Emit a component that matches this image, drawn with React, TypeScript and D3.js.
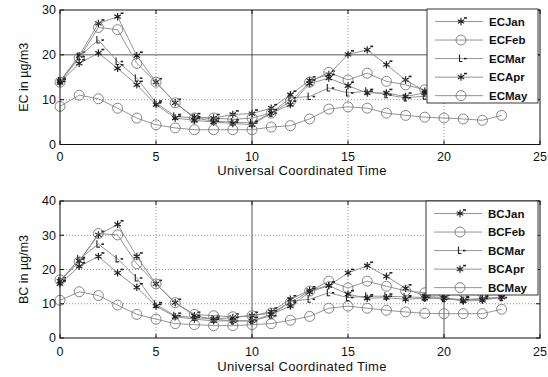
import * as d3 from "d3";
import React from "react";

const hours = [0, 1, 2, 3, 4, 5, 6, 7, 8, 9, 10, 11, 12, 13, 14, 15, 16, 17, 18, 19, 20, 21, 22, 23];
const xTicks = [0, 5, 10, 15, 20, 25];
const ecTicks = [0, 10, 20, 30];
const bcTicks = [0, 10, 20, 30, 40];

const ecJan = [14.1, 19.8, 27.0, 28.5, 19.8, 13.9, 9.3, 6.1, 5.9, 6.7, 6.9, 8.1, 11.1, 14.3, 15.6, 20.1, 21.1, 17.8, 14.4, 11.9, 11.0, 10.8, 10.6, 10.9];
const ecFeb = [13.9, 19.3, 26.1, 25.6, 18.1, 13.9, 9.3, 5.9, 5.9, 5.6, 5.9, 7.0, 9.6, 13.9, 16.1, 14.4, 15.9, 14.1, 13.3, 12.2, 11.5, 11.2, 11.0, 11.3];
const ecMar = [14.1, 19.6, 23.3, 18.5, 14.8, 9.3, 6.3, 5.9, 5.2, 5.0, 4.8, 7.0, 10.4, 10.7, 12.6, 11.5, 11.9, 11.1, 10.4, 10.8, 10.5, 10.3, 10.2, 10.5];
const ecApr = [13.8, 18.1, 20.4, 17.0, 13.3, 8.9, 5.9, 5.4, 5.0, 4.7, 4.4, 7.0, 8.9, 13.6, 14.8, 13.1, 11.5, 11.5, 10.7, 11.5, 10.8, 10.6, 10.4, 10.7];
const ecMay = [8.5, 11.0, 10.2, 8.1, 5.9, 4.4, 3.7, 3.3, 3.3, 3.3, 3.3, 3.9, 4.2, 5.7, 7.9, 8.4, 8.1, 7.0, 6.5, 6.1, 5.9, 5.7, 5.4, 6.5];

const bcJan = [16.6, 22.5, 30.1, 33.2, 23.8, 15.8, 10.3, 6.5, 5.5, 6.0, 6.5, 7.7, 11.3, 13.9, 15.3, 19.0, 21.1, 18.0, 14.5, 12.2, 11.8, 11.0, 11.4, 11.9];
const bcFeb = [17.0, 22.2, 30.5, 30.1, 21.7, 15.8, 10.3, 6.9, 6.5, 6.2, 6.5, 7.3, 10.4, 13.7, 16.6, 14.6, 16.6, 15.1, 13.8, 13.2, 13.0, 13.3, 13.2, 13.5];
const bcMar = [16.6, 23.1, 27.4, 23.1, 17.5, 9.8, 6.5, 6.0, 5.5, 5.0, 5.0, 6.5, 10.8, 11.3, 13.2, 11.8, 12.2, 12.2, 12.0, 11.8, 11.5, 11.2, 11.6, 11.8];
const bcApr = [15.8, 20.9, 23.8, 19.0, 14.8, 9.3, 6.2, 5.5, 5.0, 5.0, 5.0, 6.9, 9.3, 13.4, 15.3, 12.8, 11.6, 11.8, 11.3, 11.6, 11.6, 10.8, 11.0, 11.9];
const bcMay = [11.0, 13.5, 12.4, 9.6, 6.9, 5.5, 4.2, 3.9, 3.6, 3.6, 3.9, 4.2, 5.2, 6.3, 8.7, 9.3, 8.7, 8.1, 7.6, 7.2, 7.1, 7.1, 7.1, 8.4];

const ecNames = ["ECJan", "ECFeb", "ECMar", "ECApr", "ECMay"];
const bcNames = ["BCJan", "BCFeb", "BCMar", "BCApr", "BCMay"];
type Kind = "star" | "circle" | "ell";
const kinds: Kind[] = ["star", "circle", "ell", "star", "circle"];

const FONT = "'Liberation Sans', Arial, Helvetica, sans-serif";
const starPath = d3.symbol(d3.symbolAsterisk, 38)() ?? "";

const Marker: React.FC<{ kind: Kind; x: number; y: number }> = ({ kind, x, y }) => {
  if (kind === "circle")
    return <circle cx={x} cy={y} r={5} fill="none" stroke="#777" strokeWidth={0.9} />;
  if (kind === "ell")
    return (
      <g transform={`translate(${x},${y})`} stroke="#222" strokeWidth={1.1} fill="none">
        <path d="M-1.5,-4V3H1.5" />
        <path d="M3,0H5.5" strokeWidth={1.6} />
      </g>
    );
  return (
    <g transform={`translate(${x},${y})`} stroke="#222" fill="none">
      <path d={starPath} strokeWidth={1.2} />
      <path d="M3,-3.5H6" strokeWidth={1.6} />
    </g>
  );
};

interface PanelProps {
  top: number;
  bottom: number;
  tickDy: number;
  labelDy: number;
  yTicks: number[];
  yLabel: string;
  names: string[];
  series: number[][];
  solidX: number[];
  solidY: number[];
  legend: { x: number; y: number; w: number; h: number };
}

const Panel: React.FC<PanelProps> = ({ top, bottom, tickDy, labelDy, yTicks, yLabel, names, series, solidX, solidY, legend }) => {
  const left = 60;
  const right = 540;
  const x = d3.scaleLinear().domain([0, 25]).range([left, right]);
  const y = d3.scaleLinear().domain([0, yTicks[yTicks.length - 1]]).range([bottom, top]);
  const line = d3.line<number>().x((_, i) => x(hours[i])).y((d) => y(d));
  const rowH = (legend.h - 18) / 4.1;

  return (
    <g fontFamily={FONT}>
      {/* grid */}
      {xTicks.slice(1, -1).map((t) => (
        <line
          key={"gx" + t}
          x1={x(t)} x2={x(t)} y1={top} y2={bottom}
          stroke={solidX.includes(t) ? "#444" : "#666"}
          strokeWidth={solidX.includes(t) ? 0.9 : 0.7}
          strokeDasharray={solidX.includes(t) ? undefined : "1 2"}
        />
      ))}
      {yTicks.slice(1, -1).map((t) => (
        <line
          key={"gy" + t}
          x1={left} x2={right} y1={y(t)} y2={y(t)}
          stroke={solidY.includes(t) ? "#444" : "#666"}
          strokeWidth={solidY.includes(t) ? 0.9 : 0.7}
          strokeDasharray={solidY.includes(t) ? undefined : "1 2"}
        />
      ))}

      {/* series */}
      {series.map((s, i) => (
        <g key={names[i]}>
          <path d={line(s) ?? undefined} fill="none" stroke="#888" strokeWidth={0.9} />
          {s.map((v, j) => (
            <Marker key={j} kind={kinds[i]} x={x(hours[j])} y={y(v)} />
          ))}
        </g>
      ))}

      {/* box and ticks */}
      <rect x={left} y={top} width={right - left} height={bottom - top} fill="none" stroke="#111" strokeWidth={1} />
      {xTicks.map((t) => (
        <g key={"tx" + t}>
          <line x1={x(t)} x2={x(t)} y1={bottom} y2={bottom - 4} stroke="#111" />
          <line x1={x(t)} x2={x(t)} y1={top} y2={top + 4} stroke="#111" />
          <text x={x(t)} y={bottom + tickDy} textAnchor="middle" fontSize={12.5} fill="#111">
            {t}
          </text>
        </g>
      ))}
      {yTicks.map((t) => (
        <g key={"ty" + t}>
          <line x1={left} x2={left + 4} y1={y(t)} y2={y(t)} stroke="#111" />
          <line x1={right} x2={right - 4} y1={y(t)} y2={y(t)} stroke="#111" />
          <text x={left - 4} y={y(t)} dy="0.35em" textAnchor="end" fontSize={12.5} fill="#111">
            {t}
          </text>
        </g>
      ))}
      <text
        transform={`translate(${28},${(top + bottom) / 2}) rotate(-90)`}
        textAnchor="middle"
        fontSize={12.5}
        fill="#111"
      >
        {yLabel}
      </text>
      <text
        x={(left + right) / 2 + 2}
        y={bottom + labelDy}
        textAnchor="middle"
        fontSize={13}
        letterSpacing={0.35}
        fill="#111"
      >
        Universal Coordinated Time
      </text>

      {/* legend */}
      <rect x={legend.x} y={legend.y} width={legend.w} height={legend.h} fill="#fff" stroke="#222" strokeWidth={0.9} />
      {names.map((n, i) => {
        const cy = legend.y + 12.5 + i * rowH;
        return (
          <g key={"lg" + n}>
            <line x1={legend.x + 8} x2={legend.x + 56} y1={cy} y2={cy} stroke="#888" strokeWidth={0.9} />
            <Marker kind={kinds[i]} x={legend.x + 34} y={cy} />
            <text x={legend.x + 62} y={cy} dy="0.35em" fontSize={11.5} fontWeight="bold" fill="#111">
              {n}
            </text>
          </g>
        );
      })}
    </g>
  );
};

export default function App() {
  return (
    <svg
      width={548}
      height={377}
      style={{ position: "absolute", left: 0, top: 0, background: "#fff" }}
    >
      <rect width={548} height={377} fill="#fff" />
      <Panel
        top={10}
        bottom={144.5}
        tickDy={16}
        labelDy={30.5}
        yTicks={ecTicks}
        yLabel="EC in µg/m3"
        names={ecNames}
        series={[ecJan, ecFeb, ecMar, ecApr, ecMay]}
        solidX={[10]}
        solidY={[20]}
        legend={{ x: 427, y: 9, w: 111, h: 94 }}
      />
      <Panel
        top={201}
        bottom={338}
        tickDy={17.5}
        labelDy={32.5}
        yTicks={bcTicks}
        yLabel="BC in µg/m3"
        names={bcNames}
        series={[bcJan, bcFeb, bcMar, bcApr, bcMay]}
        solidX={[10, 20]}
        solidY={[]}
        legend={{ x: 426, y: 201, w: 112, h: 94 }}
      />
    </svg>
  );
}
